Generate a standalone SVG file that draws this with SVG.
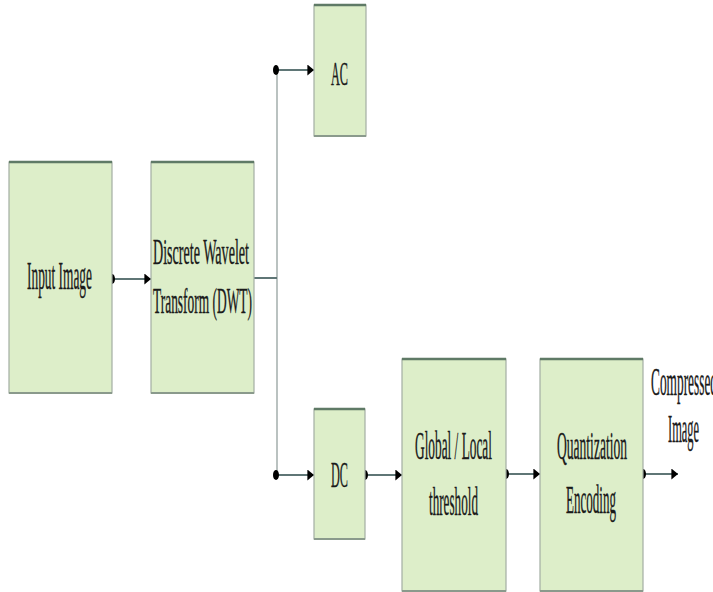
<svg xmlns="http://www.w3.org/2000/svg" width="713" height="592" viewBox="0 0 713 592">
<style>
.box{fill:#ddeec9;stroke:#a3aea3;stroke-width:1.2}
.top{stroke:#5f7a66;stroke-width:2.5}
.bot{stroke:#8a9a8c;stroke-width:2}
.t{font-family:"Liberation Serif","Times New Roman",serif;fill:#1a1a1a;stroke:#1a1a1a;stroke-width:0.3}
.c{stroke:#5f7676;stroke-width:2;fill:none}
.v{stroke:#a9b3b1;stroke-width:1.6;fill:none}
</style>
<defs>
<marker id="dotS" viewBox="0 0 6 10" refX="3" refY="5" markerWidth="3" markerHeight="5.5" markerUnits="strokeWidth" orient="0">
<ellipse cx="3" cy="5" rx="3" ry="5" fill="#000"/>
</marker>
<marker id="arr" viewBox="0 0 6 10" refX="6" refY="5" markerWidth="3.5" markerHeight="5.5" markerUnits="strokeWidth" orient="auto">
<path d="M0,0 L6,5 L0,10 Z" fill="#000"/>
</marker>
</defs>
<rect width="713" height="592" fill="#fff"/>
<g id="connectors">
<path class="v" d="M277,70 V475"/>
<path class="c" d="M254,278 H277"/>
<path class="c" d="M112,279 H151" marker-start="url(#dotS)" marker-end="url(#arr)"/>
<path class="c" d="M276,70 H314" marker-start="url(#dotS)" marker-end="url(#arr)"/>
<path class="c" d="M276,475 H314" marker-start="url(#dotS)" marker-end="url(#arr)"/>
<path class="c" d="M365,475 H402" marker-start="url(#dotS)" marker-end="url(#arr)"/>
<path class="c" d="M506,474 H540" marker-start="url(#dotS)" marker-end="url(#arr)"/>
<path class="c" d="M643,474 H678" marker-start="url(#dotS)" marker-end="url(#arr)"/>
</g>
<g id="input">
<rect class="box" x="9" y="162" width="103" height="231"/>
<path class="top" d="M9,162 H112"/><path class="bot" d="M9,393 H112"/>
<text class="t" transform="translate(27,289) scale(1,1.3)" font-size="31" textLength="65" lengthAdjust="spacingAndGlyphs">Input Image</text>
</g>
<g id="dwt">
<rect class="box" x="151" y="162" width="103" height="231"/>
<path class="top" d="M151,162 H254"/><path class="bot" d="M151,393 H254"/>
<text class="t" transform="translate(153,264) scale(1,1.3)" font-size="28" textLength="96" lengthAdjust="spacingAndGlyphs">Discrete Wavelet</text>
<text class="t" transform="translate(153,313) scale(1,1.3)" font-size="28" textLength="99" lengthAdjust="spacingAndGlyphs">Transform (DWT)</text>
</g>
<g id="ac">
<rect class="box" x="314" y="5" width="52" height="131"/>
<path class="top" d="M314,5 H366"/><path class="bot" d="M314,136 H366"/>
<text class="t" transform="translate(331,85) scale(1,1.3)" font-size="26" textLength="17" lengthAdjust="spacingAndGlyphs">AC</text>
</g>
<g id="dc">
<rect class="box" x="314" y="409" width="51" height="130"/>
<path class="top" d="M314,409 H365"/><path class="bot" d="M314,539 H365"/>
<text class="t" transform="translate(331,487) scale(1,1.3)" font-size="28" textLength="17" lengthAdjust="spacingAndGlyphs">DC</text>
</g>
<g id="threshold">
<rect class="box" x="402" y="359" width="104" height="232"/>
<path class="top" d="M402,359 H506"/><path class="bot" d="M402,591 H506"/>
<text class="t" transform="translate(415,459) scale(1,1.3)" font-size="30" textLength="77" lengthAdjust="spacingAndGlyphs">Global / Local</text>
<text class="t" transform="translate(429,515) scale(1,1.3)" font-size="30" textLength="49" lengthAdjust="spacingAndGlyphs">threshold</text>
</g>
<g id="quant">
<rect class="box" x="540" y="359" width="103" height="232"/>
<path class="top" d="M540,359 H643"/><path class="bot" d="M540,591 H643"/>
<text class="t" transform="translate(557,459) scale(1,1.3)" font-size="30" textLength="70" lengthAdjust="spacingAndGlyphs">Quantization</text>
<text class="t" transform="translate(566,513) scale(1,1.3)" font-size="30" textLength="50" lengthAdjust="spacingAndGlyphs">Encoding</text>
</g>
<g id="output">
<text class="t" transform="translate(651,395) scale(1,1.3)" font-size="31" textLength="66" lengthAdjust="spacingAndGlyphs">Compressed</text>
<text class="t" transform="translate(668,442) scale(1,1.3)" font-size="31" textLength="31" lengthAdjust="spacingAndGlyphs">Image</text>
</g>
</svg>
